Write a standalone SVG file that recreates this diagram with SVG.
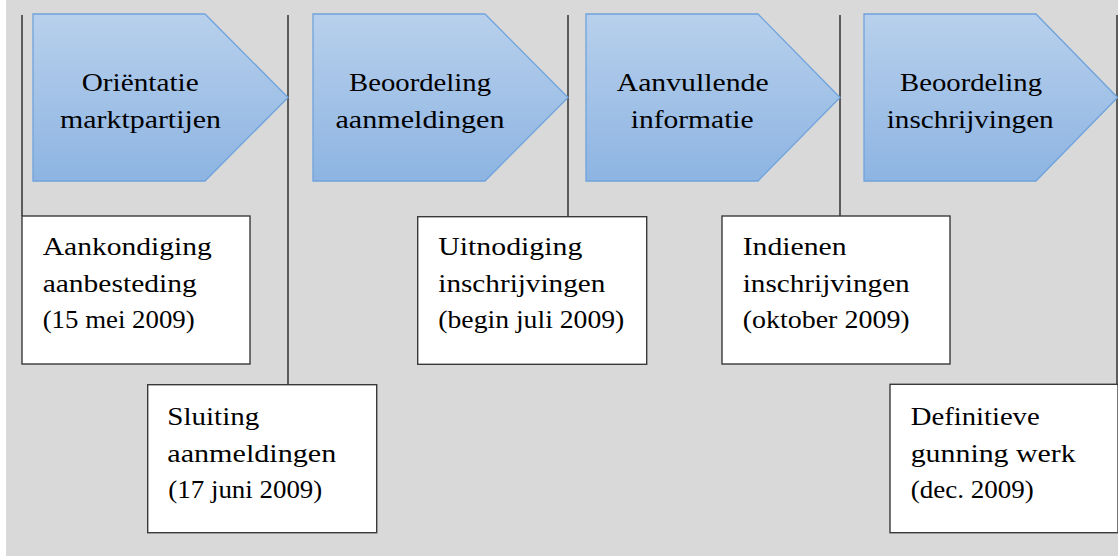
<svg xmlns="http://www.w3.org/2000/svg" width="1118" height="556" viewBox="0 0 1118 556">
<defs>
<linearGradient id="pg" x1="0" y1="0" x2="0" y2="1">
<stop offset="0" stop-color="#b8d0ec"/>
<stop offset="1" stop-color="#8db4e2"/>
</linearGradient>
<style>
.bg{fill:#d9d9d9}
.phase{fill:url(#pg);stroke:#6fa3dc;stroke-width:1.3}
.box{fill:#ffffff;stroke:#3a3a3a;stroke-width:1.4}
.conn{stroke:#262626;stroke-width:1.4;fill:none}
text{font-family:"Liberation Serif","Times New Roman",serif;font-size:25.5px;fill:#000}
</style>
</defs>
<rect class="bg" x="6" y="0" width="1112" height="556"/>
<g id="connectors">
<line class="conn" x1="22" y1="15" x2="22" y2="216"/>
<line class="conn" x1="288" y1="15" x2="288" y2="385"/>
<line class="conn" x1="568" y1="15" x2="568" y2="217"/>
<line class="conn" x1="840" y1="15" x2="840" y2="216"/>
<line class="conn" x1="1117" y1="15" x2="1117" y2="384"/>
</g>
<g id="phase1">
<polygon class="phase" points="33,14 205,14 288,97.5 205,181 33,181"/>
<text x="81.7" y="90.7" textLength="117" lengthAdjust="spacingAndGlyphs">Oriëntatie</text>
<text x="60" y="128" textLength="161" lengthAdjust="spacingAndGlyphs">marktpartijen</text>
</g>
<g id="phase2">
<polygon class="phase" points="313,14 485,14 568,97.5 485,181 313,181"/>
<text x="349" y="90.7" textLength="142" lengthAdjust="spacingAndGlyphs">Beoordeling</text>
<text x="335.5" y="128" textLength="169" lengthAdjust="spacingAndGlyphs">aanmeldingen</text>
</g>
<g id="phase3">
<polygon class="phase" points="586,14 758,14 840,97.5 758,181 586,181"/>
<text x="616.7" y="90.7" textLength="152" lengthAdjust="spacingAndGlyphs">Aanvullende</text>
<text x="630.7" y="128" textLength="123" lengthAdjust="spacingAndGlyphs">informatie</text>
</g>
<g id="phase4">
<polygon class="phase" points="864,14 1036,14 1117.5,97.5 1036,181 864,181"/>
<text x="900" y="90.7" textLength="142" lengthAdjust="spacingAndGlyphs">Beoordeling</text>
<text x="886.7" y="128" textLength="167" lengthAdjust="spacingAndGlyphs">inschrijvingen</text>
</g>
<g id="event1">
<rect class="box" x="22" y="216" width="228" height="148"/>
<text x="42.7" y="255" textLength="169" lengthAdjust="spacingAndGlyphs">Aankondiging</text>
<text x="42.7" y="291.7" textLength="154" lengthAdjust="spacingAndGlyphs">aanbesteding</text>
<text x="42.7" y="328.3" textLength="152" lengthAdjust="spacingAndGlyphs">(15 mei 2009)</text>
</g>
<g id="event2">
<rect class="box" x="147.7" y="384.7" width="229" height="148"/>
<text x="167.3" y="425" textLength="92" lengthAdjust="spacingAndGlyphs">Sluiting</text>
<text x="167.3" y="461.7" textLength="169" lengthAdjust="spacingAndGlyphs">aanmeldingen</text>
<text x="168.3" y="498.3" textLength="154" lengthAdjust="spacingAndGlyphs">(17 juni 2009)</text>
</g>
<g id="event3">
<rect class="box" x="417.7" y="216.7" width="229" height="147.6"/>
<text x="438.3" y="255" textLength="144" lengthAdjust="spacingAndGlyphs">Uitnodiging</text>
<text x="438.3" y="291.7" textLength="167" lengthAdjust="spacingAndGlyphs">inschrijvingen</text>
<text x="438.3" y="328.3" textLength="186" lengthAdjust="spacingAndGlyphs">(begin juli 2009)</text>
</g>
<g id="event4">
<rect class="box" x="722" y="216" width="228" height="148"/>
<text x="742.7" y="255" textLength="104" lengthAdjust="spacingAndGlyphs">Indienen</text>
<text x="742.7" y="291.7" textLength="167" lengthAdjust="spacingAndGlyphs">inschrijvingen</text>
<text x="742.7" y="328.3" textLength="167" lengthAdjust="spacingAndGlyphs">(oktober 2009)</text>
</g>
<g id="event5">
<rect class="box" x="890" y="384.3" width="228" height="148.4"/>
<text x="910.7" y="425" textLength="129" lengthAdjust="spacingAndGlyphs">Definitieve</text>
<text x="910.7" y="461.7" textLength="165" lengthAdjust="spacingAndGlyphs">gunning werk</text>
<text x="910.7" y="498.3" textLength="123" lengthAdjust="spacingAndGlyphs">(dec. 2009)</text>
</g>
</svg>
